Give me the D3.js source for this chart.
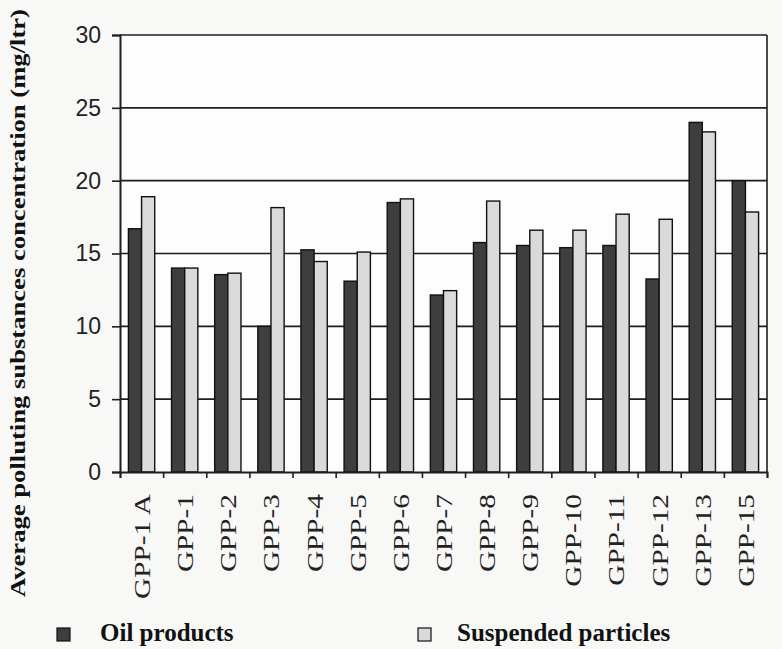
<html>
<head>
  <meta charset="utf-8">
  <title>Average polluting substances concentration</title>
  <script src="https://cdn.jsdelivr.net/npm/d3@7"></script>
  <style>
    body { margin: 0; background: #f8f8f7; }
    svg { display: block; }
  </style>
</head>
<body>
  <script>
    // data
    const categories = ["GPP-1 A", "GPP-1", "GPP-2", "GPP-3", "GPP-4", "GPP-5", "GPP-6", "GPP-7",
      "GPP-8", "GPP-9", "GPP-10", "GPP-11", "GPP-12", "GPP-13", "GPP-15"];
    const oilProducts = [16.7, 14.0, 13.55, 10.0, 15.25, 13.1, 18.5, 12.15, 15.75, 15.55, 15.4, 15.55, 13.25, 24.0, 20.0];
    const suspendedParticles = [18.9, 14.0, 13.65, 18.15, 14.45, 15.1, 18.75, 12.45, 18.6, 16.6, 16.6, 17.7, 17.35, 23.35, 17.85];
    const seriesNames = ["Oil products", "Suspended particles"];
    const yTicks = [0, 5, 10, 15, 20, 25, 30];

    const w = 782, h = 649;
    const plotLeft = 120, plotRight = 767, plotTop = 35, plotBottom = 472;
    const colors = ["#3e3e3e", "#dadada"];
    const stretch = 1.22; // the scan is a bit taller than wide

    const svg = d3.select("body").append("svg")
      .attr("width", w).attr("height", h);

    const y = d3.scaleLinear().domain([0, 30]).range([plotBottom, plotTop]);
    const x = d3.scaleBand().domain(categories).range([plotLeft, plotRight]);
    const xInner = d3.scaleBand().domain(seriesNames).range([0, x.bandwidth()])
      .paddingInner(0).paddingOuter(0.64);
    const xEdges = d3.scaleLinear().domain([0, categories.length]).range([plotLeft, plotRight]);

    // plot background
    svg.append("rect")
      .attr("x", plotLeft).attr("y", plotTop)
      .attr("width", plotRight - plotLeft).attr("height", plotBottom - plotTop)
      .attr("fill", "#fdfdfd");

    // gridlines
    svg.append("g")
      .selectAll("line")
      .data(yTicks.filter(d => d > 0))
      .enter().append("line")
      .attr("x1", plotLeft).attr("x2", plotRight)
      .attr("y1", d => y(d)).attr("y2", d => y(d))
      .attr("stroke", "#1e1e1e").attr("stroke-width", 1.6);

    // right border
    svg.append("line")
      .attr("x1", plotRight).attr("x2", plotRight)
      .attr("y1", plotTop).attr("y2", plotBottom)
      .attr("stroke", "#1e1e1e").attr("stroke-width", 1.6);

    // bars
    const rows = categories.map((c, i) => ({ cat: c, vals: [oilProducts[i], suspendedParticles[i]] }));
    const groups = svg.append("g").selectAll("g")
      .data(rows)
      .enter().append("g")
      .attr("transform", d => "translate(" + x(d.cat) + ",0)");
    groups.selectAll("rect")
      .data(d => d.vals.map((v, k) => ({ name: seriesNames[k], v: v, k: k })))
      .enter().append("rect")
      .attr("x", d => xInner(d.name))
      .attr("y", d => y(d.v))
      .attr("width", xInner.bandwidth())
      .attr("height", d => y(0) - y(d.v))
      .attr("fill", d => colors[d.k])
      .attr("stroke", "#111")
      .attr("stroke-width", 1.4);

    // y axis
    const yAxis = d3.axisLeft(y).tickValues(yTicks).tickSize(8).tickPadding(11);
    const gy = svg.append("g")
      .attr("transform", "translate(" + plotLeft + ",0)")
      .call(yAxis);
    gy.select(".domain").attr("stroke", "#1e1e1e").attr("stroke-width", 2);
    gy.selectAll(".tick line").attr("stroke", "#1e1e1e").attr("stroke-width", 1.6);
    gy.selectAll(".tick text")
      .attr("font-family", "Liberation Sans, Arial, sans-serif")
      .attr("font-size", 23)
      .attr("fill", "#222");

    // x axis: ticks on the band edges
    const xAxis = d3.axisBottom(xEdges).ticks(categories.length).tickSize(6).tickFormat("");
    const gx = svg.append("g")
      .attr("transform", "translate(0," + plotBottom + ")")
      .call(xAxis);
    gx.select(".domain").attr("stroke", "#1e1e1e").attr("stroke-width", 1.8);
    gx.selectAll(".tick line").attr("stroke", "#1e1e1e").attr("stroke-width", 1.6);

    // category labels (rotated)
    svg.append("g").selectAll("text")
      .data(categories)
      .enter().append("text")
      .attr("transform", d => "translate(" + (x(d) + x.bandwidth() / 2) + ",494) rotate(-90)")
      .attr("dy", "0.35em")
      .attr("text-anchor", "end")
      .attr("font-family", "Liberation Serif, Times New Roman, serif")
      .attr("font-size", 24)
      .attr("fill", "#222")
      .text(d => d)
      .each(function () {
        const len = this.getComputedTextLength();
        d3.select(this).attr("textLength", len * stretch).attr("lengthAdjust", "spacingAndGlyphs");
      });

    // y title
    svg.append("text")
      .attr("transform", "translate(25,303) rotate(-90)")
      .attr("text-anchor", "middle")
      .attr("font-family", "Liberation Serif, Times New Roman, serif")
      .attr("font-weight", "bold")
      .attr("font-size", 22)
      .attr("fill", "#111")
      .attr("textLength", 588)
      .attr("lengthAdjust", "spacingAndGlyphs")
      .text("Average polluting substances concentration (mg/ltr)");

    // legend
    const legendX = [57, 418];
    const legend = svg.append("g").selectAll("g")
      .data(seriesNames)
      .enter().append("g")
      .attr("transform", (d, i) => "translate(" + legendX[i] + ",628)");
    legend.append("rect")
      .attr("width", 13).attr("height", 13)
      .attr("fill", (d, i) => colors[i])
      .attr("stroke", "#111").attr("stroke-width", 1.2);
    legend.append("text")
      .attr("x", (d, i) => i === 0 ? 43 : 39)
      .attr("y", 13)
      .attr("font-family", "Liberation Serif, Times New Roman, serif")
      .attr("font-weight", "bold")
      .attr("font-size", 25)
      .attr("fill", "#111")
      .text(d => d);
  </script>
</body>
</html>
